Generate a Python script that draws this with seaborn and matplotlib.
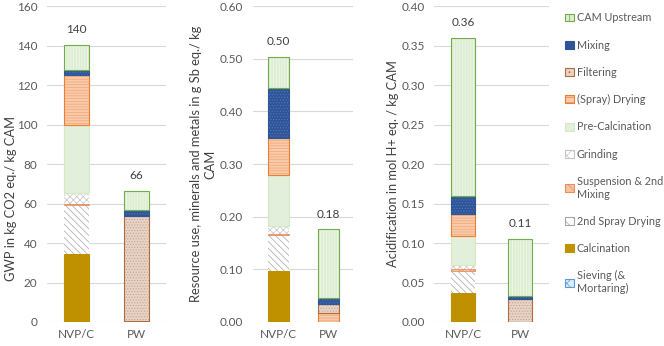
import numpy as np
import pandas as pd
import matplotlib
matplotlib.use("Agg")
import matplotlib.pyplot as plt
from matplotlib.patches import Patch
from matplotlib.colors import to_rgba
import seaborn as sns

# stages, stacked bottom -> top
stages = ["Sieving (& Mortaring)", "Calcination", "2nd Spray Drying",
          "Suspension & 2nd Mixing", "Grinding", "Pre-Calcination",
          "(Spray) Drying", "Filtering", "Mixing", "CAM Upstream"]
legend_labels = ["Sieving (&\nMortaring)", "Calcination", "2nd Spray Drying",
                 "Suspension & 2nd\nMixing", "Grinding", "Pre-Calcination",
                 "(Spray) Drying", "Filtering", "Mixing", "CAM Upstream"]
products = ["NVP/C", "PW"]

gwp_nvpc = [0, 34.2, 25.2, 0.6, 5.3, 34.5, 25.3, 0, 2.5, 12.6]
gwp_pw = [0, 0, 0, 0, 0, 0, 0.3, 53.3, 3.3, 9.4]
res_nvpc = [0, 0.097, 0.068, 0.003, 0.014, 0.098, 0.069, 0, 0.096, 0.058]
res_pw = [0, 0, 0, 0, 0, 0, 0.018, 0.017, 0.010, 0.131]
acid_nvpc = [0, 0.037, 0.028, 0.0015, 0.006, 0.0365, 0.028, 0, 0.022, 0.201]
acid_pw = [0, 0, 0, 0, 0, 0, 0, 0.0295, 0.0035, 0.0727]

# face, edge, hatch, hatch colour
styles = {
    "Sieving (& Mortaring)": ("#DEEBF7", "#5B9BD5", "xxx", "#5B9BD5"),
    "Calcination": ("#BF9000", "#BF9000", "", None),
    "2nd Spray Drying": ("#FFFFFF", "none", "\\\\\\\\\\", "#A6A6A6"),
    "Suspension & 2nd Mixing": ("#F6C3A0", "#E59060", "xxx", "#ED7D31"),
    "Grinding": ("#FFFFFF", "none", "xxxxx", "#C4C4C4"),
    "Pre-Calcination": ("#E2EFDA", "#D3E8C6", "", None),
    "(Spray) Drying": ("#F8CBAD", "#ED7D31", "------", "#F4A46E"),
    "Filtering": ("#E6D3C6", "#B06A40", "......", "#C9A28A"),
    "Mixing": ("#2F5597", "#2F5597", "......", "#4F79C6"),
    "CAM Upstream": ("#DDEDD2", "#70AD47", "||||||", "#F3F9EF"),
}

sns.set_style("white")
plt.rcParams["font.family"] = ["Lato", "DejaVu Sans"]
plt.rcParams["hatch.linewidth"] = 0.5

TICK_C = "#595959"
GRID_C = "#D9D9D9"


def draw_panel(ax, nvpc, pw, ymax, step, fmt, ylabel, label_xy):
    df = pd.DataFrame({"NVP/C": nvpc, "PW": pw}, index=stages)
    bottoms = df.cumsum() - df
    for stage in stages:
        face, edge, hatch, hcol = styles[stage]
        sub = pd.DataFrame({"product": products, "value": df.loc[stage].values})
        lw = 0.6 if stage == "Suspension & 2nd Mixing" else 0.8
        sns.barplot(data=sub, x="product", y="value", order=products,
                    bottom=bottoms.loc[stage].values, width=0.42,
                    color=face, edgecolor=edge, linewidth=lw, hatch=hatch,
                    saturation=1, errorbar=None, ax=ax)
        for p in ax.containers[-1]:
            if p.get_height() == 0:
                p.set_visible(False)
            if hcol is not None:
                p._hatch_color = to_rgba(hcol)
    totals = df.sum()
    for i, prod in enumerate(products):
        ax.annotate(fmt.format(totals[prod]), (i, totals[prod]),
                    xytext=(0, 7), textcoords="offset points",
                    ha="center", va="bottom", fontsize=8.5, color="#404040")
    ticks = np.arange(0, ymax + step / 2, step)
    ax.set_ylim(0, ymax)
    ax.set_xlim(-0.5, 1.5)
    ax.set_yticks(ticks)
    ax.set_yticklabels([fmt.format(t) for t in ticks])
    ax.tick_params(axis="y", length=0, colors=TICK_C, labelsize=8.5, pad=7)
    ax.tick_params(axis="x", length=0, colors=TICK_C, labelsize=8.5, pad=5)
    ax.grid(axis="y", color=GRID_C, linewidth=0.8)
    ax.set_axisbelow(True)
    for s in ax.spines.values():
        s.set_visible(False)
    ax.set_xlabel("")
    ax.set_ylabel(ylabel, fontsize=9.3, color="#404040", linespacing=1.2)
    ax.yaxis.set_label_coords(*label_xy)


fig = plt.figure(figsize=(6.64, 3.46), dpi=100)
bottom, height = 0.0694, 0.913
ax1 = fig.add_axes([0.0708, bottom, 0.179, height])
ax2 = fig.add_axes([0.381, bottom, 0.151, height])
ax3 = fig.add_axes([0.654, bottom, 0.173, height])

draw_panel(ax1, gwp_nvpc, gwp_pw, 160, 20, "{:.0f}",
           "GWP in kg CO2 eq./ kg CAM", (-0.25, 0.39))
draw_panel(ax2, res_nvpc, res_pw, 0.60, 0.10, "{:.2f}",
           "Resource use, minerals and metals in g Sb eq./ kg\nCAM",
           (-0.37, 0.5))
draw_panel(ax3, acid_nvpc, acid_pw, 0.40, 0.05, "{:.2f}",
           "Acidification in mol H+ eq. / kg CAM", (-0.31, 0.5))

handles = []
for stage in stages:
    face, edge, hatch, hcol = styles[stage]
    h = Patch(facecolor=face, edgecolor=(hcol if edge == "none" else edge),
              hatch=hatch.replace(hatch[:1] * 2, hatch[:1]) if hatch else "",
              linewidth=0.8)
    handles.append(h)

leg = fig.legend(handles[::-1], legend_labels[::-1], loc="upper left",
                 bbox_to_anchor=(0.845, 0.977), frameon=False, fontsize=7.8,
                 handlelength=0.75, handleheight=0.75, handletextpad=0.3,
                 labelspacing=1.5, borderaxespad=0)
for t in leg.get_texts():
    t.set_color(TICK_C)

fig.savefig("out.png", dpi=100)
